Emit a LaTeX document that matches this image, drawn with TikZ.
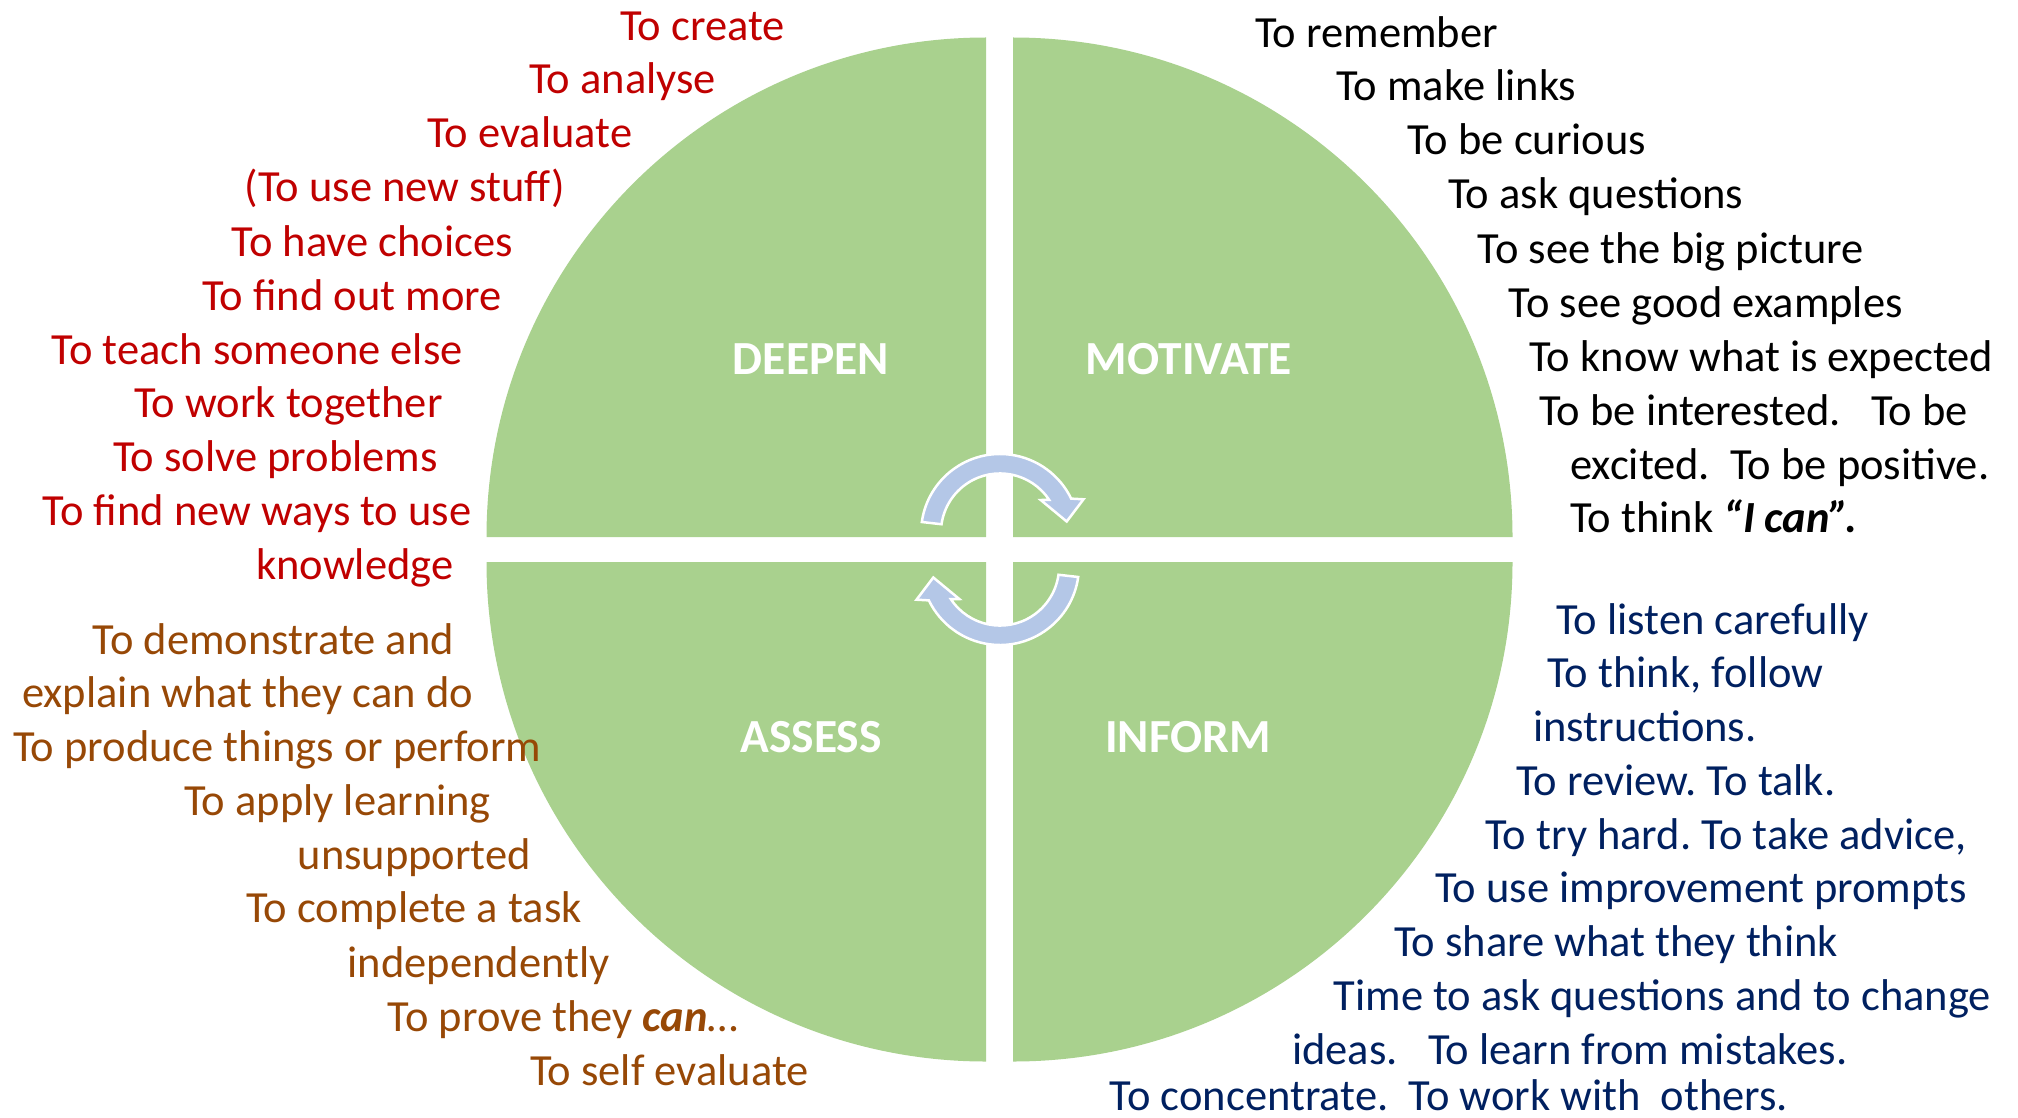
\documentclass[tikz,border=0pt]{standalone}
\usepackage{fontspec}
\setmainfont{Carlito}
\definecolor{petal}{HTML}{A9D18E}
\definecolor{cyclefill}{HTML}{B4C7E7}
\definecolor{deepred}{HTML}{C00000}
\definecolor{motblack}{HTML}{000000}
\definecolor{assbrown}{HTML}{974806}
\definecolor{infnavy}{HTML}{002060}
\tikzset{
  quarter/.style={fill=petal, draw=none},
  quadlabel/.style={text=white, inner sep=0, font={\fontsize{47.5}{57}\selectfont\bfseries}},
  item/.style={anchor=base west, inner sep=0, font={\fontsize{44.5}{54}\selectfont}},
  deepitem/.style={item, text=deepred},
  motitem/.style={item, text=motblack},
  assitem/.style={item, text=assbrown},
  infitem/.style={item, text=infnavy},
  cyclearrow/.style={fill=cyclefill, draw=white, line width=2.5, line join=miter}
}
\begin{document}
\frenchspacing
\begin{tikzpicture}[x=1pt, y=-1pt]
\useasboundingbox (0,0) rectangle (2018,1118);

% four quarter discs separated by a white cross
\fill[quarter] (986,537) -- (486.5,537) arc[start angle=180, end angle=270, radius=499.5] -- cycle;
\fill[quarter] (1013,537) -- (1013,37.5) arc[start angle=270, end angle=360, radius=499.5] -- cycle;
\fill[quarter] (986,562) -- (486.5,562) arc[start angle=180, end angle=90, radius=499.5] -- cycle;
\fill[quarter] (1013,562) -- (1512.5,562) arc[start angle=0, end angle=90, radius=499.5] -- cycle;

% quarter titles
\node[quadlabel] (deepen)   at (811,359)  {DEEPEN};
\node[quadlabel] (motivate) at (1189,359) {MOTIVATE};
\node[quadlabel] (assess)   at (811,737)  {ASSESS};
\node[quadlabel] (inform)   at (1188,737) {INFORM};

% clockwise cycle arrows round the centre (1000,549.5)
\filldraw[cyclearrow] (921.8,522.0) arc[start angle=188, end angle=334.2, radius=79]
  -- (1083.5,499.3) -- (1066.7,521.5) -- (1040.7,500)
  -- (1049.2,499.97) arc[start angle=326.6, end angle=188, radius=59] -- cycle;
\filldraw[cyclearrow] (1078.2,577.0) arc[start angle=8, end angle=154.2, radius=79]
  -- (916.5,599.7) -- (933.3,577.5) -- (959.3,599)
  -- (950.8,599.03) arc[start angle=146.6, end angle=8, radius=59] -- cycle;

% DEEPEN
\node[deepitem] (d1)  at (620,40.5)  {To create};
\node[deepitem] (d2)  at (529,94)    {To analyse};
\node[deepitem] (d3)  at (427,148)   {To evaluate};
\node[deepitem] (d4)  at (244.5,202) {(To use new stuff)};
\node[deepitem] (d5)  at (231.5,256) {To have choices};
\node[deepitem] (d6)  at (202,310)   {To find out more};
\node[deepitem] (d7)  at (51.5,364)  {To teach someone else};
\node[deepitem] (d8)  at (134,417.5) {To work together};
\node[deepitem] (d9)  at (113,471.5) {To solve problems};
\node[deepitem] (d10) at (42.5,525)  {To find new ways to use};
\node[deepitem] (d11) at (256,579)   {knowledge};

% MOTIVATE
\node[motitem] (m1)  at (1255,48)   {To remember};
\node[motitem] (m2)  at (1336,101)  {To make links};
\node[motitem] (m3)  at (1407,155)  {To be curious};
\node[motitem] (m4)  at (1448,209)  {To ask questions};
\node[motitem] (m5)  at (1477.5,263) {To see the big picture};
\node[motitem] (m6)  at (1508.5,317) {To see good examples};
\node[motitem] (m7)  at (1529,371)  {To know what is expected};
\node[motitem] (m8)  at (1539,425)  {To be interested.\ \ \ To be};
\node[motitem] (m9)  at (1570,479)  {excited.\ \ To be positive.};
\node[motitem] (m10) at (1570,532)  {To think \textbf{\textit{“I can”.}}};

% ASSESS
\node[assitem] (a1) at (92.5,654)  {To demonstrate and};
\node[assitem] (a2) at (22,707.5)  {explain what they can do};
\node[assitem] (a3) at (13,761.5)  {To produce things or perform};
\node[assitem] (a4) at (184,815)   {To apply learning};
\node[assitem] (a5) at (297.5,869) {unsupported};
\node[assitem] (a6) at (246,922.5) {To complete a task};
\node[assitem] (a7) at (347.5,977) {independently};
\node[assitem] (a8) at (387.5,1031) {To prove they \textbf{\textit{can}}…};
\node[assitem] (a9) at (530,1085)  {To self evaluate};

% INFORM
\node[infitem] (i1)  at (1556,634)    {To listen carefully};
\node[infitem] (i2)  at (1547,687)    {To think, follow};
\node[infitem] (i3)  at (1533,741)    {instructions.};
\node[infitem] (i4)  at (1516,795)    {To review. To talk.};
\node[infitem] (i5)  at (1485,849)    {To try hard. To take advice,};
\node[infitem] (i6)  at (1435,902.5)  {To use improvement prompts};
\node[infitem] (i7)  at (1394,956.5)  {To share what they think};
\node[infitem] (i8)  at (1333.5,1010.5) {Time to ask questions and to change};
\node[infitem] (i9)  at (1292,1064) {ideas.\ \ \ To learn from mistakes.};
\node[infitem] (i10) at (1109.5,1110) {To concentrate.\ \ To work with\ \ others.};
\end{tikzpicture}
\end{document}
